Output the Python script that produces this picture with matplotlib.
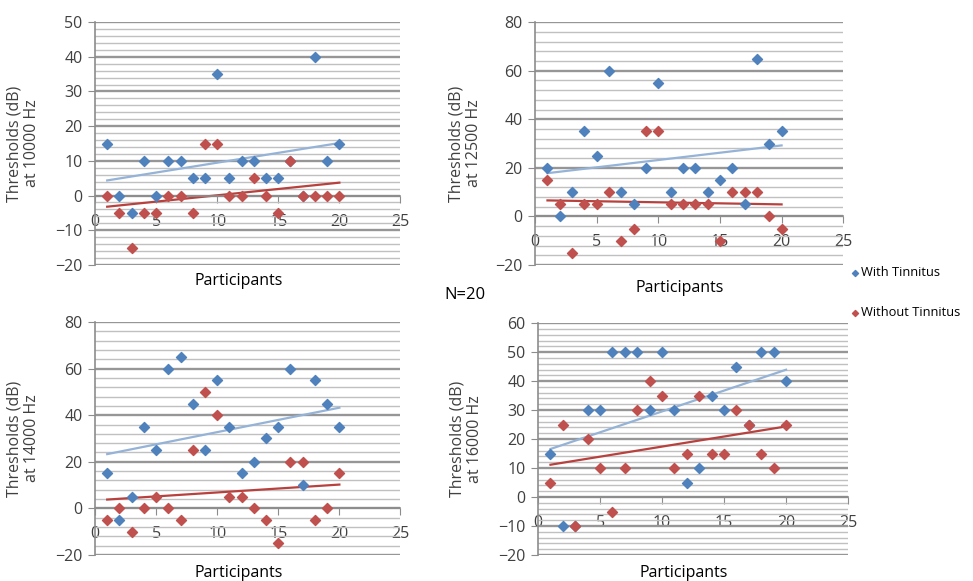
import matplotlib.pyplot as plt
import numpy as np
from matplotlib.ticker import MultipleLocator

# Participants 1..20
participants = list(range(1, 21))

# Thresholds (dB)
with_10000 = [15, 0, -5, 10, 0, 10, 10, 5, 5, 35, 5, 10, 10, 5, 5, 10, 0, 40, 10, 15]
without_10000 = [0, -5, -15, -5, -5, 0, 0, -5, 15, 15, 0, 0, 5, 0, -5, 10, 0, 0, 0, 0]

with_12500 = [20, 0, 10, 35, 25, 60, 10, 5, 20, 55, 10, 20, 20, 10, 15, 20, 5, 65, 30, 35]
without_12500 = [15, 5, -15, 5, 5, 10, -10, -5, 35, 35, 5, 5, 5, 5, -10, 10, 10, 10, 0, -5]

with_14000 = [15, -5, 5, 35, 25, 60, 65, 45, 25, 55, 35, 15, 20, 30, 35, 60, 10, 55, 45, 35]
without_14000 = [-5, 0, -10, 0, 5, 0, -5, 25, 50, 40, 5, 5, 0, -5, -15, 20, 20, -5, 0, 15]

with_16000 = [15, -10, -10, 30, 30, 50, 50, 50, 30, 50, 30, 5, 10, 35, 30, 45, 25, 50, 50, 40]
without_16000 = [5, 25, -10, 20, 10, -5, 10, 30, 40, 35, 10, 15, 35, 15, 15, 30, 25, 15, 10, 25]

freq_labels = ["10000", "12500", "14000", "16000"]

BLUE = "#4F81BD"
RED = "#C0504D"
BLUE_TREND = "#95B3D7"
RED_TREND = "#B8413E"
TEXT = "#404040"

plt.rcParams['font.family'] = ['Open Sans', 'DejaVu Sans']

fig = plt.figure(figsize=(9.73, 5.81), dpi=100)

# panel: (rect, ylim, major, minor, ylabel x, xlabel y, with, without)
panels = [
    ([0.0976, 0.544, 0.314, 0.418], (-20, 50), 10, 2, -0.18, -0.066, with_10000, without_10000),
    ([0.550, 0.544, 0.3166, 0.418], (-20, 80), 20, 4, -0.172, -0.095, with_12500, without_12500),
    ([0.0976, 0.0448, 0.314, 0.401], (-20, 80), 20, 4, -0.18, -0.077, with_14000, without_14000),
    ([0.553, 0.0448, 0.3186, 0.399], (-20, 60), 10, 2, -0.177, -0.077, with_16000, without_16000),
]

x = np.array(participants)
axes = []
for (rect, ylim, major, minor, labx, laby, yw, yo), freq in zip(panels, freq_labels):
    ax = fig.add_axes(rect)
    axes.append(ax)
    ax.set_xlim(0, 25)
    ax.set_ylim(*ylim)
    ax.yaxis.set_major_locator(MultipleLocator(major))
    ax.yaxis.set_minor_locator(MultipleLocator(minor))
    ax.xaxis.set_major_locator(MultipleLocator(5))

    # grid
    ax.grid(which='major', axis='y', color='#969696', linewidth=1.7, zorder=0)
    ax.grid(which='minor', axis='y', color='#C0C0C0', linewidth=1.0, zorder=0)
    ax.set_axisbelow(True)

    for s in ['top', 'right']:
        ax.spines[s].set_visible(False)
    ax.spines['left'].set_color('#8C8C8C')
    ax.spines['left'].set_linewidth(1.2)
    ax.spines['bottom'].set_position(('data', 0))
    ax.spines['bottom'].set_color('#8C8C8C')
    ax.spines['bottom'].set_linewidth(1.2)

    ax.tick_params(axis='y', which='major', length=5, color='#8C8C8C',
                   labelsize=11.5, labelcolor=TEXT, pad=4)
    ax.tick_params(axis='y', which='minor', length=0)
    ax.tick_params(axis='x', which='major', length=5, color='#8C8C8C',
                   labelsize=11.5, labelcolor=TEXT, pad=8, direction='out')

    # scatter points
    ax.scatter(x, yw, marker='D', s=26, color=BLUE, zorder=3, label='With Tinnitus')
    ax.scatter(x, yo, marker='D', s=26, color=RED, zorder=3, label='Without Tinnitus')

    # linear trend lines
    for yy, c in [(yw, BLUE_TREND), (yo, RED_TREND)]:
        k, b = np.polyfit(x, yy, 1)
        ax.plot([x[0], x[-1]], [k * x[0] + b, k * x[-1] + b], color=c, linewidth=1.6, zorder=2)

    ax.set_ylabel("Thresholds (dB)\nat " + freq + " Hz", fontsize=11.5, color=TEXT,
                  linespacing=1.1)
    ax.yaxis.set_label_coords(labx, 0.5)
    ax.text(0.47, laby, "Participants", transform=ax.transAxes, ha='center', va='center',
            fontsize=11.5, color='black')

fig.text(0.478, 0.492, "N=20", ha='center', va='center', fontsize=12, color='black')

handles, labels = axes[0].get_legend_handles_labels()
leg = fig.legend(handles, labels, loc='upper left', bbox_to_anchor=(0.868, 0.551),
                 frameon=False, fontsize=9.3, labelspacing=2.1, handletextpad=0.05,
                 handlelength=0.8, markerscale=0.6, borderaxespad=0)
for t in leg.get_texts():
    t.set_color('black')

fig.savefig("out.png", dpi=100)
